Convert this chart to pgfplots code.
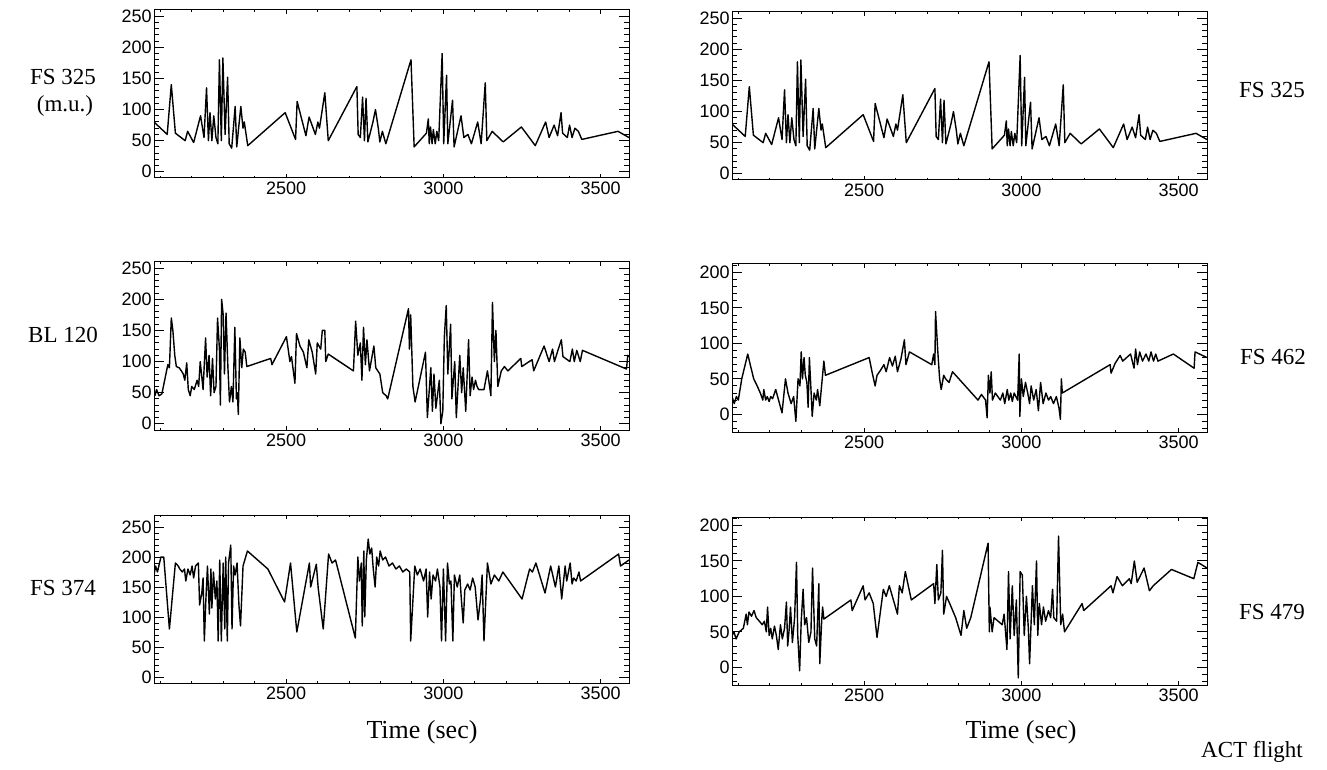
\documentclass[border=0pt]{standalone}
\usepackage{fontspec}
\setmainfont{Liberation Serif}
\setsansfont{Liberation Sans}
\usepackage{pgfplots}
\usepackage{pgfplotstable}
\pgfplotsset{compat=1.18}

% FS 325 (used in both top panels)
\pgfplotstableread{
x y
2080 80
2122 60
2135 140
2148 62
2179 50
2187 65
2206 47
2228 90
2239 55
2247 135
2253 50
2258 95
2264 50
2270 90
2277 55
2283 45
2288 180
2294 50
2299 183
2306 60
2314 152
2319 45
2327 38
2338 105
2343 40
2356 105
2363 70
2367 80
2378 42
2497 95
2530 52
2535 113
2563 58
2573 88
2593 60
2601 80
2606 70
2623 127
2634 50
2725 137
2729 60
2736 55
2743 120
2749 50
2754 118
2760 48
2776 80
2784 100
2793 70
2798 48
2806 65
2817 45
2897 180
2907 40
2946 62
2952 85
2955 45
2959 72
2964 45
2968 68
2974 45
2979 65
2985 50
2996 190
3001 45
3010 155
3014 45
3029 115
3034 40
3056 90
3065 55
3078 60
3089 45
3109 80
3120 45
3133 143
3138 50
3155 65
3190 48
3248 72
3292 42
3325 80
3336 55
3352 75
3363 58
3374 95
3379 62
3394 55
3401 75
3409 55
3418 70
3429 65
3440 52
3555 65
3590 55
}\fsA

% BL 120
\pgfplotstableread{
x y
2083 45
2088 55
2096 45
2105 48
2124 95
2129 90
2135 170
2140 150
2146 110
2151 92
2160 90
2167 85
2173 80
2178 70
2184 98
2189 55
2195 45
2200 60
2208 55
2217 70
2222 60
2227 100
2236 55
2244 138
2249 75
2255 110
2260 45
2266 105
2271 50
2277 60
2282 170
2288 120
2291 30
2295 200
2300 175
2304 80
2309 178
2315 90
2320 35
2326 60
2331 35
2337 155
2342 40
2345 50
2348 15
2353 138
2359 90
2364 120
2370 115
2375 92
2451 105
2455 95
2501 140
2512 100
2517 108
2528 65
2533 145
2544 125
2555 115
2566 90
2572 135
2583 115
2594 80
2599 130
2610 120
2615 150
2623 150
2626 100
2634 112
2714 85
2721 165
2728 110
2736 130
2741 70
2746 155
2752 95
2757 135
2765 85
2779 125
2785 90
2798 80
2807 50
2818 45
2823 40
2889 185
2892 120
2896 175
2903 60
2910 35
2943 115
2949 10
2960 90
2965 20
2970 80
2976 25
2987 70
2992 0
2998 20
3003 140
3009 190
3014 80
3023 160
3027 40
3036 100
3041 10
3052 110
3058 50
3063 90
3071 20
3080 135
3085 45
3091 75
3096 55
3102 70
3107 60
3112 55
3129 55
3140 85
3151 45
3156 195
3162 100
3167 150
3173 60
3184 85
3194 92
3205 85
3246 105
3249 92
3282 103
3287 85
3320 125
3336 100
3347 120
3353 100
3364 118
3375 135
3380 108
3402 100
3410 120
3416 100
3424 118
3435 100
3442 118
3582 88
3586 110
3590 108
}\blA

% FS 462
\pgfplotstableread{
x y
2080 25
2087 15
2094 25
2100 20
2111 50
2130 85
2138 70
2149 50
2160 40
2170 30
2178 20
2181 35
2187 20
2192 25
2198 18
2203 25
2209 22
2219 35
2228 20
2239 2
2250 50
2258 30
2268 15
2276 25
2283 -10
2290 50
2296 40
2300 88
2304 50
2309 80
2313 55
2318 45
2322 10
2326 80
2331 35
2335 -3
2341 30
2348 20
2352 35
2359 12
2372 75
2377 55
2516 80
2525 60
2535 40
2541 55
2552 62
2563 70
2570 60
2581 80
2590 68
2599 82
2606 60
2617 78
2628 105
2633 70
2644 88
2715 70
2721 85
2725 70
2727 145
2734 90
2740 50
2745 35
2753 55
2759 50
2770 45
2781 60
2862 20
2873 28
2886 20
2891 -5
2895 55
2900 30
2904 60
2908 20
2917 30
2925 25
2933 20
2941 30
2947 15
2955 35
2960 20
2966 30
2971 18
2977 30
2988 20
2993 85
2995 -3
3000 50
3006 25
3013 45
3020 30
3026 15
3031 40
3039 20
3047 35
3054 5
3061 45
3069 15
3078 30
3086 20
3093 25
3102 15
3111 25
3119 10
3124 -7
3127 50
3130 30
3282 70
3285 58
3298 72
3314 83
3322 75
3347 85
3358 65
3363 92
3369 70
3376 88
3385 75
3396 85
3405 75
3412 88
3420 75
3427 85
3434 75
3483 85
3549 65
3552 88
3590 80
}\fsB

% FS 374
\pgfplotstableread{
x y
2080 170
2085 185
2091 175
2102 200
2111 200
2129 80
2148 190
2157 185
2162 180
2170 175
2177 180
2181 160
2188 180
2195 170
2201 185
2206 165
2212 185
2221 190
2225 120
2232 140
2236 165
2240 60
2245 130
2250 185
2256 105
2261 180
2264 115
2269 175
2275 130
2280 160
2284 60
2289 195
2294 60
2300 190
2305 80
2308 200
2313 60
2317 190
2324 220
2328 80
2333 185
2338 170
2344 190
2350 120
2355 85
2363 185
2377 210
2442 180
2495 125
2514 190
2534 75
2574 190
2578 150
2596 188
2602 148
2618 80
2635 205
2646 190
2657 195
2662 185
2720 65
2728 200
2733 160
2739 190
2742 85
2747 210
2750 100
2755 195
2761 230
2766 205
2772 215
2777 180
2783 150
2788 200
2794 185
2799 210
2807 195
2816 200
2827 185
2838 190
2849 180
2860 185
2871 175
2882 180
2893 175
2896 60
2909 185
2917 170
2926 180
2937 160
2945 180
2950 100
2956 175
2961 130
2967 170
2975 160
2981 180
2989 150
2994 60
3000 180
3007 60
3013 190
3019 155
3024 160
3030 60
3035 170
3044 150
3052 170
3057 130
3063 90
3068 145
3077 155
3085 145
3093 165
3101 150
3110 95
3118 130
3123 170
3129 60
3140 190
3151 155
3162 170
3176 160
3189 175
3250 130
3274 180
3283 175
3294 190
3323 140
3341 185
3356 150
3367 185
3376 130
3387 185
3392 160
3403 190
3409 155
3414 165
3422 160
3431 175
3436 160
3557 205
3563 185
3590 195
}\fsC

% FS 479
\pgfplotstableread{
x y
2080 45
2086 50
2093 40
2103 50
2116 55
2125 75
2129 60
2134 78
2142 72
2150 80
2157 70
2167 65
2176 60
2183 65
2189 50
2193 85
2198 45
2203 55
2208 40
2215 58
2221 45
2227 25
2234 60
2240 40
2247 55
2253 92
2257 30
2262 55
2266 85
2272 35
2279 70
2285 148
2289 45
2295 -5
2300 65
2306 110
2311 60
2317 70
2324 35
2331 50
2336 140
2343 40
2349 30
2356 118
2359 5
2365 65
2368 85
2372 68
2458 95
2462 80
2497 115
2503 95
2516 105
2529 90
2541 42
2561 110
2570 100
2580 115
2593 95
2606 75
2612 115
2621 105
2631 135
2638 120
2650 95
2721 118
2725 90
2731 145
2736 95
2744 105
2749 165
2753 75
2762 100
2772 90
2791 70
2808 45
2817 80
2826 55
2839 70
2894 175
2898 50
2900 85
2907 50
2913 70
2939 60
2945 75
2954 25
2959 135
2964 40
2971 115
2977 45
2984 95
2990 -15
2996 135
3003 130
3009 45
3016 100
3022 55
3026 5
3035 115
3041 60
3048 150
3052 45
3057 90
3064 60
3070 85
3077 65
3086 80
3093 70
3099 110
3103 70
3112 65
3118 185
3125 60
3131 75
3137 50
3193 90
3198 80
3285 115
3291 105
3304 128
3321 115
3343 125
3349 118
3359 150
3368 120
3390 140
3407 108
3419 115
3477 138
3548 125
3561 148
3590 140
}\fsD

\pgfplotsset{
  panel/.style={
    scale only axis, width=237.5pt, height=84pt,
    anchor=north west,
    xmin=2080, xmax=3590,
    xtick={2500,3000,3500},
    minor xtick={2100,2200,...,3500},
    tick align=inside,
    axis line style={line width=0.5pt},
    every tick/.style={black, line width=0.5pt},
    xtick style={/pgfplots/major tick length=2pt,/pgfplots/minor tick length=1.2pt},
    ytick style={/pgfplots/major tick length=5pt,/pgfplots/minor tick length=2.5pt},
    tick label style={font=\sffamily\fontsize{9}{10}\selectfont},
    /pgf/number format/assume math mode=true,
    /pgf/number format/1000 sep={},
    yticklabel style={inner sep=1pt},
    xticklabel style={inner sep=2pt},
  },
  trace/.style={black, line width=0.7pt, line join=round, mark=none},
  low/.style={ymin=-10, ymax=260, ytick={0,50,...,250}, minor ytick={-10,0,...,260}},
  big/.style={ymin=-10, ymax=270, ytick={0,50,...,250}, minor ytick={-10,0,...,270}},
  neg/.style={ymin=-25, ymax=212, ytick={0,50,...,200}, minor ytick={-20,-10,...,210}},
}

\begin{document}
\begin{tikzpicture}
\useasboundingbox (0,0) rectangle (663.5pt,-385pt);

\begin{axis}[panel, low, at={(77pt,-5pt)}]
  \addplot[trace] table {\fsA};
\end{axis}
\begin{axis}[panel, low, at={(366pt,-6pt)}]
  \addplot[trace] table {\fsA};
\end{axis}

\begin{axis}[panel, low, at={(77pt,-131pt)}]
  \addplot[trace] table {\blA};
\end{axis}
\begin{axis}[panel, neg, at={(366pt,-132pt)}]
  \addplot[trace] table {\fsB};
\end{axis}

\begin{axis}[panel, big, at={(77pt,-257.5pt)}]
  \addplot[trace] table {\fsC};
\end{axis}
\begin{axis}[panel, neg, at={(366pt,-258.5pt)}]
  \addplot[trace] table {\fsD};
\end{axis}

\begin{scope}[every node/.style={font=\fontsize{11.5}{13}\selectfont, inner sep=0pt}]
  \node at (31.5pt,-38.5pt) {FS 325};
  \node at (32.5pt,-53pt) {(m.u.)};
  \node at (31.5pt,-167.5pt) {BL 120};
  \node at (31.5pt,-294pt) {FS 374};
  \node at (636pt,-45pt) {FS 325};
  \node at (636.5pt,-178.5pt) {FS 462};
  \node at (636pt,-306pt) {FS 479};
  \node at (626pt,-376pt) {ACT flight};
  \node[font=\fontsize{13}{15}\selectfont] at (211pt,-366pt) {Time (sec)};
  \node[font=\fontsize{13}{15}\selectfont] at (510.5pt,-366pt) {Time (sec)};
\end{scope}
\end{tikzpicture}
\end{document}
